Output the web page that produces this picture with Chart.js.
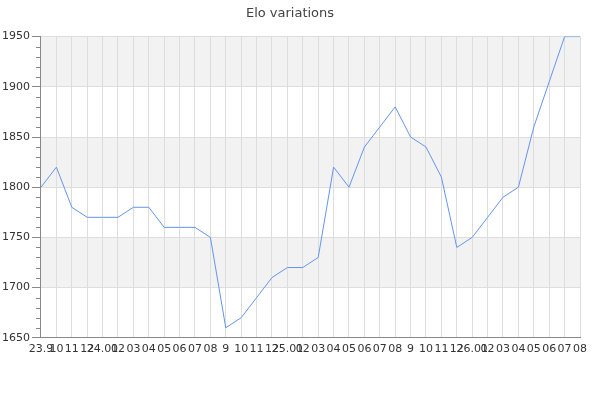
<!DOCTYPE html>
<html>
<head>
<meta charset="utf-8">
<script src="https://cdn.jsdelivr.net/npm/chart.js@4"></script>
<style>
  html, body { margin: 0; padding: 0; background: #fff; }
  #wrap { width: 600px; height: 400px; }
</style>
</head>
<body>
<div id="wrap"><canvas id="eloChart"></canvas></div>
<script>
const months = ['23.9', '10', '11', '12', '24.01', '02', '03', '04', '05', '06', '07', '08',
    '9', '10', '11', '12', '25.01', '02', '03', '04', '05', '06', '07', '08',
    '9', '10', '11', '12', '26.01', '02', '03', '04', '05', '06', '07', '08'];
const elo = [1800, 1820, 1780, 1770, 1770, 1770, 1780, 1780, 1760, 1760, 1760, 1750,
    1660, 1670, 1690, 1710, 1720, 1720, 1730, 1820, 1800, 1840, 1860, 1880,
    1850, 1840, 1810, 1740, 1750, 1770, 1790, 1800, 1860, 1905, 1950, 1950];
const yMin = 1650;
const yMax = 1950;
const yStep = 50;
const yMinorStep = 10;

// grey bands on every other 50-point interval
const bandPlugin = {
    id: 'bands',
    beforeDraw(chart) {
        const { ctx, chartArea, scales } = chart;
        ctx.save();
        ctx.fillStyle = '#f2f2f2';
        for (let v = yMax; v > yMin; v -= yStep * 2) {
            const top = scales.y.getPixelForValue(v);
            const bottom = scales.y.getPixelForValue(v - yStep);
            ctx.fillRect(chartArea.left, top, chartArea.right - chartArea.left, bottom - top);
        }
        ctx.restore();
    }
};

// small ticks between the labelled ones
const minorTicks = {
    id: 'minorTicks',
    afterDraw(chart) {
        const { ctx, chartArea, scales } = chart;
        ctx.save();
        ctx.strokeStyle = '#888';
        ctx.lineWidth = 1;
        for (let v = yMin; v <= yMax; v += yMinorStep) {
            if (v % yStep === 0) continue;
            const y = Math.round(scales.y.getPixelForValue(v)) + 0.5;
            ctx.beginPath();
            ctx.moveTo(chartArea.left - 5, y);
            ctx.lineTo(chartArea.left, y);
            ctx.stroke();
        }
        ctx.restore();
    }
};

const ctx = document.getElementById('eloChart').getContext('2d');
const eloChart = new Chart(ctx, {
    type: 'line',
    data: {
        labels: months,
        datasets: [{
            label: 'Elo',
            data: elo,
            borderColor: '#6495ed',
            borderWidth: 1,
            pointRadius: 0,
            tension: 0,
            fill: false,
        }]
    },
    options: {
        responsive: true,
        maintainAspectRatio: false,
        animation: false,
        layout: { padding: { left: 0, right: 20, top: 0, bottom: 39 } },
        plugins: {
            legend: { display: false },
            tooltip: { enabled: false },
            title: {
                display: true,
                text: 'Elo variations',
                color: '#444',
                font: { family: 'DejaVu Sans', size: 13, weight: 'normal' },
                padding: { top: 6, bottom: 15 }
            }
        },
        scales: {
            x: {
                offset: false,
                grid: { color: '#dddddd', drawTicks: false },
                border: { color: '#888' },
                ticks: {
                    autoSkip: false,
                    maxRotation: 0,
                    minRotation: 0,
                    padding: 5,
                    color: '#333',
                    font: { family: 'DejaVu Sans', size: 11 }
                }
            },
            y: {
                min: yMin,
                max: yMax,
                grid: { color: '#dddddd', tickColor: '#888', tickLength: 9 },
                border: { color: '#888' },
                ticks: {
                    stepSize: yStep,
                    padding: 2,
                    color: '#333',
                    font: { family: 'DejaVu Sans', size: 11 },
                    callback: (v) => String(v)
                }
            }
        }
    },
    plugins: [bandPlugin, minorTicks]
});
</script>
</body>
</html>
